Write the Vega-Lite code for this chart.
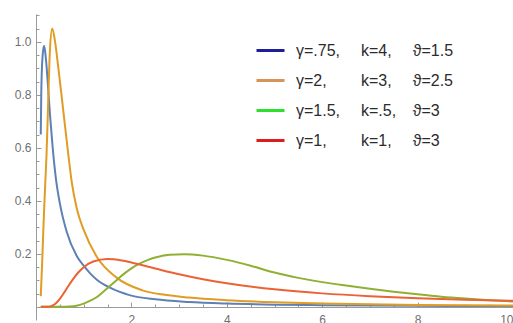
{
  "$schema": "https://vega.github.io/schema/vega-lite/v6.json",
  "autosize": "none",
  "padding": {"left": 36, "top": 14, "right": 0, "bottom": 3},
  "width": 477,
  "height": 306,
  "background": "white",
  "datasets": {
    "curves": [
      {"s": "a", "x": 0.1, "y": 0.65}, {"s": "a", "x": 0.11, "y": 0.8}, {"s": "a", "x": 0.12, "y": 0.88}, {"s": "a", "x": 0.14, "y": 0.95}, {"s": "a", "x": 0.17, "y": 0.985}, {"s": "a", "x": 0.2, "y": 0.95}, {"s": "a", "x": 0.225, "y": 0.9}, {"s": "a", "x": 0.26, "y": 0.81}, {"s": "a", "x": 0.3, "y": 0.71}, {"s": "a", "x": 0.35, "y": 0.6}, {"s": "a", "x": 0.42, "y": 0.48}, {"s": "a", "x": 0.5, "y": 0.39}, {"s": "a", "x": 0.64, "y": 0.285}, {"s": "a", "x": 0.86, "y": 0.19}, {"s": "a", "x": 1.0, "y": 0.155}, {"s": "a", "x": 1.13, "y": 0.127}, {"s": "a", "x": 1.27, "y": 0.103}, {"s": "a", "x": 1.54, "y": 0.073}, {"s": "a", "x": 1.96, "y": 0.044}, {"s": "a", "x": 2.5, "y": 0.028}, {"s": "a", "x": 3.2, "y": 0.018}, {"s": "a", "x": 4, "y": 0.012}, {"s": "a", "x": 5, "y": 0.008}, {"s": "a", "x": 6, "y": 0.006}, {"s": "a", "x": 7, "y": 0.0045}, {"s": "a", "x": 8, "y": 0.0035}, {"s": "a", "x": 9, "y": 0.003}, {"s": "a", "x": 10, "y": 0.0025},
      {"s": "b", "x": 0.1, "y": 0.04}, {"s": "b", "x": 0.13, "y": 0.17}, {"s": "b", "x": 0.16, "y": 0.32}, {"s": "b", "x": 0.19, "y": 0.45}, {"s": "b", "x": 0.22, "y": 0.57}, {"s": "b", "x": 0.26, "y": 0.8}, {"s": "b", "x": 0.29, "y": 0.96}, {"s": "b", "x": 0.34, "y": 1.05}, {"s": "b", "x": 0.4, "y": 1.0}, {"s": "b", "x": 0.466, "y": 0.905}, {"s": "b", "x": 0.57, "y": 0.743}, {"s": "b", "x": 0.674, "y": 0.58}, {"s": "b", "x": 0.75, "y": 0.47}, {"s": "b", "x": 0.856, "y": 0.37}, {"s": "b", "x": 1.0, "y": 0.29}, {"s": "b", "x": 1.27, "y": 0.19}, {"s": "b", "x": 1.69, "y": 0.11}, {"s": "b", "x": 2.23, "y": 0.062}, {"s": "b", "x": 2.7, "y": 0.045}, {"s": "b", "x": 3.2, "y": 0.035}, {"s": "b", "x": 4, "y": 0.025}, {"s": "b", "x": 5, "y": 0.017}, {"s": "b", "x": 6, "y": 0.012}, {"s": "b", "x": 7, "y": 0.009}, {"s": "b", "x": 8, "y": 0.007}, {"s": "b", "x": 9, "y": 0.0055}, {"s": "b", "x": 10, "y": 0.0045},
      {"s": "c", "x": 0.1, "y": 0}, {"s": "c", "x": 0.5, "y": 0}, {"s": "c", "x": 0.7, "y": 0.001}, {"s": "c", "x": 0.85, "y": 0.004}, {"s": "c", "x": 1.0, "y": 0.012}, {"s": "c", "x": 1.15, "y": 0.024}, {"s": "c", "x": 1.27, "y": 0.036}, {"s": "c", "x": 1.4, "y": 0.055}, {"s": "c", "x": 1.55, "y": 0.078}, {"s": "c", "x": 1.69, "y": 0.1}, {"s": "c", "x": 1.85, "y": 0.125}, {"s": "c", "x": 2.0, "y": 0.145}, {"s": "c", "x": 2.17, "y": 0.163}, {"s": "c", "x": 2.35, "y": 0.177}, {"s": "c", "x": 2.5, "y": 0.186}, {"s": "c", "x": 2.8, "y": 0.196}, {"s": "c", "x": 3.1, "y": 0.198}, {"s": "c", "x": 3.5, "y": 0.193}, {"s": "c", "x": 4.0, "y": 0.177}, {"s": "c", "x": 4.5, "y": 0.155}, {"s": "c", "x": 5.0, "y": 0.129}, {"s": "c", "x": 5.5, "y": 0.109}, {"s": "c", "x": 6.0, "y": 0.093}, {"s": "c", "x": 6.5, "y": 0.08}, {"s": "c", "x": 7.0, "y": 0.068}, {"s": "c", "x": 7.5, "y": 0.057}, {"s": "c", "x": 8.0, "y": 0.047}, {"s": "c", "x": 8.5, "y": 0.038}, {"s": "c", "x": 9.0, "y": 0.031}, {"s": "c", "x": 9.5, "y": 0.025}, {"s": "c", "x": 10.0, "y": 0.02},
      {"s": "d", "x": 0.1, "y": 0}, {"s": "d", "x": 0.25, "y": 0.0003}, {"s": "d", "x": 0.3, "y": 0.0015}, {"s": "d", "x": 0.4, "y": 0.0104}, {"s": "d", "x": 0.5, "y": 0.0297}, {"s": "d", "x": 0.6, "y": 0.0561}, {"s": "d", "x": 0.7, "y": 0.0842}, {"s": "d", "x": 0.8, "y": 0.1103}, {"s": "d", "x": 0.9, "y": 0.1321}, {"s": "d", "x": 1.0, "y": 0.1494}, {"s": "d", "x": 1.2, "y": 0.171}, {"s": "d", "x": 1.5, "y": 0.1804}, {"s": "d", "x": 1.8, "y": 0.1749}, {"s": "d", "x": 2.0, "y": 0.1673}, {"s": "d", "x": 2.5, "y": 0.1446}, {"s": "d", "x": 3.0, "y": 0.1226}, {"s": "d", "x": 3.5, "y": 0.1039}, {"s": "d", "x": 4.0, "y": 0.0886}, {"s": "d", "x": 5.0, "y": 0.0659}, {"s": "d", "x": 6.0, "y": 0.0505}, {"s": "d", "x": 7.0, "y": 0.0399}, {"s": "d", "x": 8.0, "y": 0.0322}, {"s": "d", "x": 9.0, "y": 0.0265}, {"s": "d", "x": 10.0, "y": 0.0222}
    ],
    "legend": [
      {"label": "γ=.75,\u00a0\u00a0\u00a0\u00a0\u2009k=4,\u00a0\u00a0\u00a0\u00a0\u2009ϑ=1.5", "x": 5, "y": 0.5},
      {"label": "γ=2,\u00a0\u00a0\u00a0\u00a0\u00a0\u00a0\u00a0\u2009k=3,\u00a0\u00a0\u00a0\u00a0\u2009ϑ=2.5", "x": 5, "y": 0.5},
      {"label": "γ=1.5,\u00a0\u00a0\u00a0\u00a0\u2009k=.5,\u00a0\u00a0\u00a0\u2009ϑ=3", "x": 5, "y": 0.5},
      {"label": "γ=1,\u00a0\u00a0\u00a0\u00a0\u00a0\u00a0\u00a0\u2009k=1,\u00a0\u00a0\u00a0\u00a0\u2009ϑ=3", "x": 5, "y": 0.5}
    ]
  },
  "layer": [
    {
      "data": {"name": "curves"},
      "mark": {"type": "line", "interpolate": "monotone", "strokeWidth": 2, "clip": true},
      "encoding": {
        "x": {"field": "x", "type": "quantitative",
              "scale": {"domain": [0, 10], "nice": false, "zero": false},
              "axis": {"title": null, "orient": "bottom", "values": [2, 4, 6, 8, 10], "offset": -13, "tickSize": -5, "labelPadding": 12, "grid": false}},
        "y": {"field": "y", "type": "quantitative",
              "scale": {"domain": [-0.05, 1.105], "nice": false, "zero": false},
              "axis": {"title": null, "orient": "left", "values": [0.2, 0.4, 0.6, 0.8, 1.0], "format": ".1f", "tickSize": -5, "labelPadding": 10, "grid": false}},
        "color": {"field": "s", "type": "nominal",
                  "scale": {"domain": ["a", "b", "c", "d"], "range": ["#5E81B5", "#E19C24", "#8FB032", "#EB6235"]},
                  "legend": null},
        "order": {"field": "x", "type": "quantitative"}
      }
    },
    {
      "data": {"name": "legend"},
      "mark": {"type": "line", "opacity": 0},
      "encoding": {
        "x": {"field": "x", "type": "quantitative",
              "scale": {"domain": [0, 10], "nice": false, "zero": false},
              "axis": {"title": null, "orient": "bottom", "values": [0.5, 1, 1.5, 2.5, 3, 3.5, 4.5, 5, 5.5, 6.5, 7, 7.5, 8.5, 9, 9.5], "offset": -13, "tickSize": -3, "labels": false, "domain": false, "grid": false}},
        "y": {"field": "y", "type": "quantitative",
              "scale": {"domain": [-0.05, 1.105], "nice": false, "zero": false},
              "axis": {"title": null, "orient": "left", "values": [0.05, 0.1, 0.15, 0.25, 0.3, 0.35, 0.45, 0.5, 0.55, 0.65, 0.7, 0.75, 0.85, 0.9, 0.95, 1.05, 1.1], "tickSize": -3, "labels": false, "domain": false, "grid": false}},
        "color": {"field": "label", "type": "nominal",
                  "scale": {"domain": [
                    "γ=.75,\u00a0\u00a0\u00a0\u00a0\u2009k=4,\u00a0\u00a0\u00a0\u00a0\u2009ϑ=1.5",
                    "γ=2,\u00a0\u00a0\u00a0\u00a0\u00a0\u00a0\u00a0\u2009k=3,\u00a0\u00a0\u00a0\u00a0\u2009ϑ=2.5",
                    "γ=1.5,\u00a0\u00a0\u00a0\u00a0\u2009k=.5,\u00a0\u00a0\u00a0\u2009ϑ=3",
                    "γ=1,\u00a0\u00a0\u00a0\u00a0\u00a0\u00a0\u00a0\u2009k=1,\u00a0\u00a0\u00a0\u00a0\u2009ϑ=3"],
                    "range": ["#1E1E96", "#D8935A", "#2EE02E", "#DD1C1C"]},
                  "legend": {"title": null, "orient": "none", "legendX": 219, "legendY": 21, "padding": 0,
                             "symbolType": "stroke", "symbolSize": 784, "symbolStrokeWidth": 3, "symbolOpacity": 1,
                             "labelFont": "Liberation Sans", "labelFontSize": 16, "labelColor": "#2b2b2b",
                             "labelOffset": 10, "labelLimit": 400, "rowPadding": 6}}
      }
    }
  ],
  "resolve": {"scale": {"color": "independent"}, "axis": {"x": "independent", "y": "independent"}},
  "config": {
    "view": {"stroke": null},
    "axis": {"domainColor": "#9a9a9a", "tickColor": "#9a9a9a", "labelColor": "#707070", "labelFont": "Liberation Sans", "labelFontSize": 12, "domainWidth": 1, "tickWidth": 1}
  }
}
